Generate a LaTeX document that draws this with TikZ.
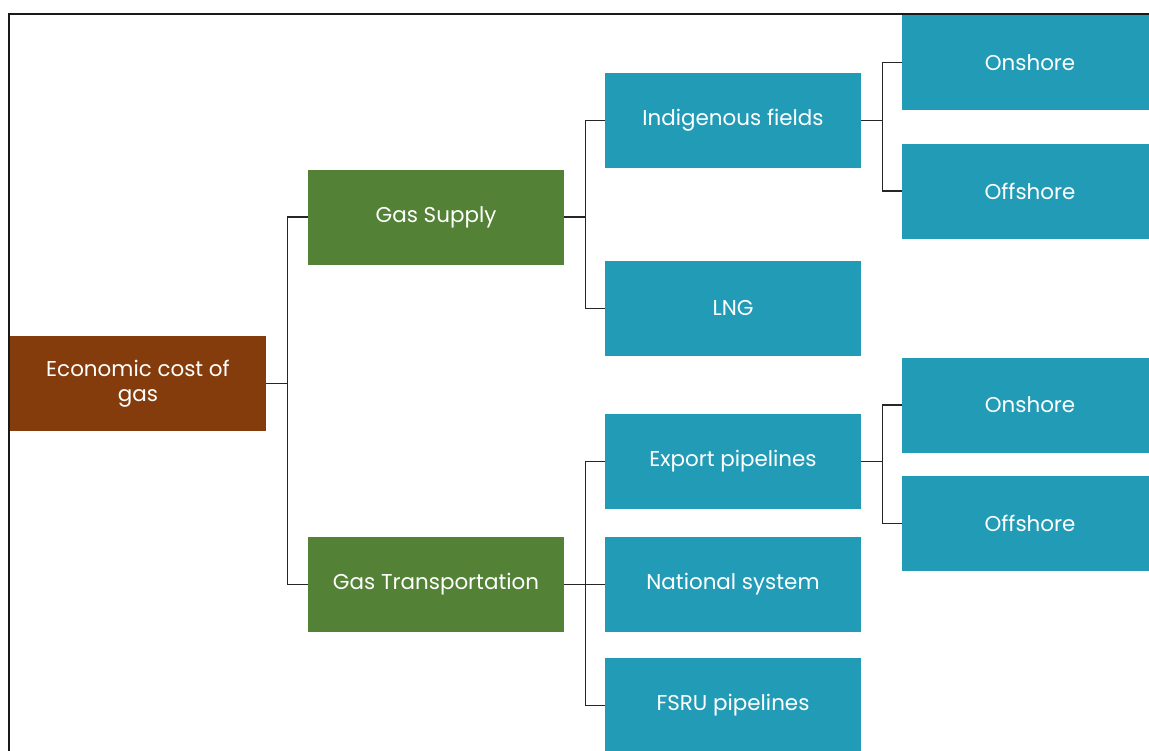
\documentclass[tikz,border=0pt]{standalone}
\usepackage{fontspec}
\setmainfont{Poppins}
\definecolor{rootbrown}{HTML}{843C0C}
\definecolor{midgreen}{HTML}{538135}
\definecolor{leafteal}{HTML}{229BB6}
\tikzset{
	box/.style={shape=rectangle, minimum width=51.2mm, minimum height=19mm, inner sep=0pt, text=white, align=center, font=\fontsize{12.2}{14.5}\selectfont},
	rootbox/.style={box, fill=rootbrown},
	midbox/.style={box, fill=midgreen},
	leafbox/.style={box, fill=leafteal},
	wire/.style={draw=black!85, line width=0.7pt}
}
\begin{document}
\begin{tikzpicture}[x=0.2mm, y=-0.2mm]
	\clip (0,0) rectangle (1149,750);
	\fill[white] (0,0) rectangle (1149,750);
	% Paths, nodes and wires:
	\node[rootbox] (cost) at (138, 383.5){Economic cost of\\gas};
	\node[midbox] (supply) at (436, 217){Gas Supply};
	\node[midbox] (transport) at (436, 584.5){Gas Transportation};
	\node[leafbox] (fields) at (733, 120.5){Indigenous fields};
	\node[leafbox] (lng) at (733, 308.5){LNG};
	\node[leafbox] (export) at (733, 461.5){Export pipelines};
	\node[leafbox] (national) at (733, 584.5){National system};
	\node[leafbox] (fsru) at (733, 705.5){FSRU pipelines};
	\node[leafbox] (fieldson) at (1030, 62.5){Onshore};
	\node[leafbox] (fieldsoff) at (1030, 191){Offshore};
	\node[leafbox] (exporton) at (1030, 405){Onshore};
	\node[leafbox] (exportoff) at (1030, 523.5){Offshore};
	\draw[wire] (cost.east) -- ++(21,0) |- (supply.west);
	\draw[wire] (cost.east) -- ++(21,0) |- (transport.west);
	\draw[wire] (supply.east) -- ++(21,0) |- (fields.west);
	\draw[wire] (supply.east) -- ++(21,0) |- (lng.west);
	\draw[wire] (transport.east) -- ++(21,0) |- (export.west);
	\draw[wire] (transport.east) -- ++(21,0) |- (national.west);
	\draw[wire] (transport.east) -- ++(21,0) |- (fsru.west);
	\draw[wire] (fields.east) -- ++(21,0) |- (fieldson.west);
	\draw[wire] (fields.east) -- ++(21,0) |- (fieldsoff.west);
	\draw[wire] (export.east) -- ++(21,0) |- (exporton.west);
	\draw[wire] (export.east) -- ++(21,0) |- (exportoff.west);
	% frame
	\draw[line width=1.2pt, black!90] (9,760) -- (9,14) -- (1160,14);
\end{tikzpicture}
\end{document}
